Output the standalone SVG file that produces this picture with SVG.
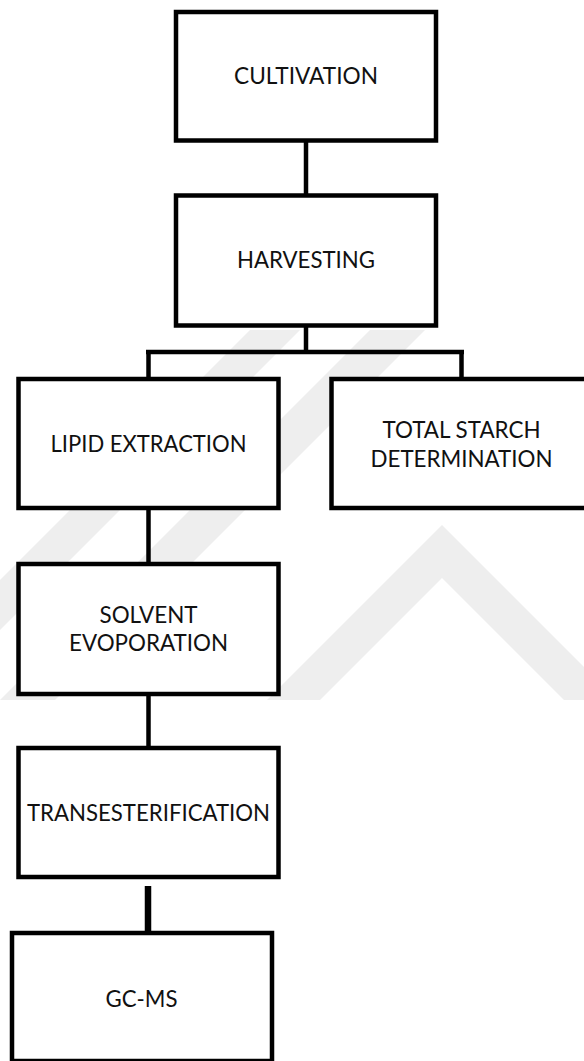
<svg xmlns="http://www.w3.org/2000/svg" width="584" height="1061" viewBox="0 0 584 1061">
<style>
.box{fill:#ffffff;stroke:#000000;stroke-width:4.5}
.lbl{font-family:Lato,"Open Sans","Liberation Sans",sans-serif;font-size:23.5px;fill:#111111;text-anchor:middle}
.con{stroke:#000000;stroke-width:4.5;fill:none}
.wm{fill:#eeeeee}
</style>
<rect x="0" y="0" width="584" height="1061" fill="#ffffff"/>
<g id="watermark">
<path class="wm" d="M267,700 L442,525 L617,700 L564,700 L442,578 L320,700 Z"/>
<path class="wm" d="M250,330 L300,330 L0,630 L0,580 Z"/>
<path class="wm" d="M370,330 L425,330 L55,700 L0,700 L0,700 Z"/>
</g>
<g id="connectors">
<line class="con" x1="306" y1="140" x2="306" y2="196"/>
<line class="con" x1="306" y1="325" x2="306" y2="352"/>
<line class="con" x1="146" y1="352" x2="464" y2="352"/>
<line class="con" x1="148.5" y1="350" x2="148.5" y2="380"/>
<line class="con" x1="461.5" y1="350" x2="461.5" y2="380"/>
<line class="con" x1="148.5" y1="508" x2="148.5" y2="565"/>
<line class="con" x1="148.5" y1="694" x2="148.5" y2="749"/>
<line x1="148" y1="886" x2="148" y2="937" stroke="#000000" stroke-width="6.5"/>
</g>
<g id="cultivation">
<rect class="box" x="176" y="12" width="260" height="128.5"/>
<text class="lbl" x="306" y="84" textLength="144" lengthAdjust="spacingAndGlyphs">CULTIVATION</text>
</g>
<g id="harvesting">
<rect class="box" x="176" y="195.5" width="260" height="130"/>
<text class="lbl" x="306" y="268" textLength="138" lengthAdjust="spacingAndGlyphs">HARVESTING</text>
</g>
<g id="lipid-extraction">
<rect class="box" x="18.5" y="379" width="260" height="129"/>
<text class="lbl" x="148.5" y="452" textLength="196" lengthAdjust="spacingAndGlyphs">LIPID EXTRACTION</text>
</g>
<g id="total-starch">
<rect class="box" x="331.5" y="379" width="260" height="129"/>
<text class="lbl" x="461.5" y="437.5" textLength="158" lengthAdjust="spacingAndGlyphs">TOTAL STARCH</text>
<text class="lbl" x="461.5" y="466.5" textLength="182" lengthAdjust="spacingAndGlyphs">DETERMINATION</text>
</g>
<g id="solvent-evaporation">
<rect class="box" x="18.5" y="564" width="260" height="130"/>
<text class="lbl" x="148.5" y="622.5" textLength="98" lengthAdjust="spacingAndGlyphs">SOLVENT</text>
<text class="lbl" x="148.5" y="651" textLength="159" lengthAdjust="spacingAndGlyphs">EVOPORATION</text>
</g>
<g id="transesterification">
<rect class="box" x="18.5" y="748" width="260" height="129"/>
<text class="lbl" x="148.5" y="821" textLength="243" lengthAdjust="spacingAndGlyphs">TRANSESTERIFICATION</text>
</g>
<g id="gc-ms">
<rect class="box" x="12" y="933" width="260" height="128"/>
<text class="lbl" x="141.5" y="1007" textLength="72" lengthAdjust="spacingAndGlyphs">GC-MS</text>
</g>
</svg>
